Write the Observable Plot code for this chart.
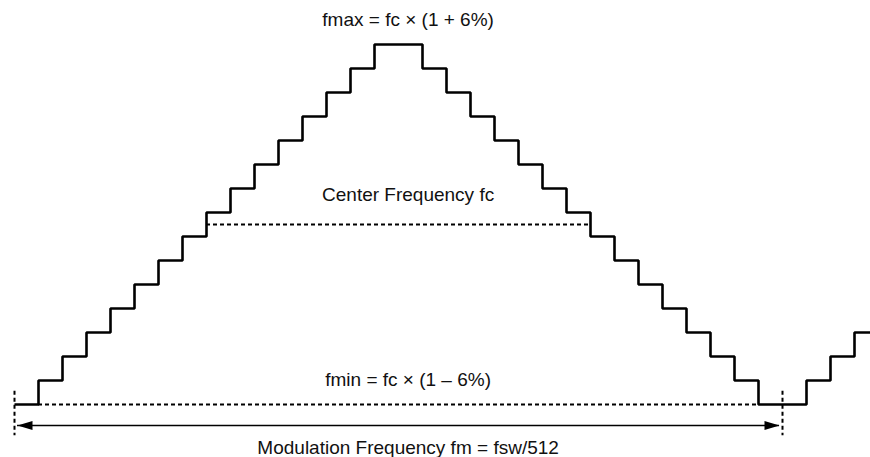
<!DOCTYPE html>
<html>
<head>
<meta charset="utf-8">
<script src="https://cdn.jsdelivr.net/npm/d3@7"></script>
<script src="https://cdn.jsdelivr.net/npm/@observablehq/plot@0.6"></script>
<style>
  html, body { margin: 0; padding: 0; background: #fff; overflow: hidden; }
  #chart svg { display: block; }
</style>
</head>
<body>
<div id="chart"></div>
<script>
// Frequency level of each modulation step (step index = position in array; last value closes the final step)
const stepLevels = [0,1,2,3,4,5,6,7,8,9,10,11,12,13,14,15,15,14,13,12,11,10,9,8,7,6,5,4,3,2,1,0,0,1,2,3,3];
// Reference levels (in step units)
const fminLevel = 0;
const fcLevel = 7.5;
const fmaxLevel = 15;
// Period markers (step index)
const periodStart = 0;
const periodEnd = 32;
// Labels
const labelTexts = ["fmax = fc × (1 + 6%)", "Center Frequency fc", "fmin = fc × (1 – 6%)", "Modulation Frequency fm = fsw/512"];
const labelLevels = [15.79, 8.5, 0.76, -2.08];
const labelStep = 16.4;

const steps = stepLevels.map((level, i) => ({i, level}));
const labels = labelTexts.map((text, k) => ({text, x: labelStep, y: labelLevels[k]}));

const arrowY = -0.875;
const arrowLeft = {draw(ctx) { ctx.moveTo(0, 0); ctx.lineTo(15, -4.5); ctx.lineTo(15, 4.5); ctx.closePath(); }};
const arrowRight = {draw(ctx) { ctx.moveTo(0, 0); ctx.lineTo(-15, -4.5); ctx.lineTo(-15, 4.5); ctx.closePath(); }};

const chart = Plot.plot({
  width: 870,
  height: 457,
  marginLeft: 14,
  marginRight: -8,
  marginTop: 44,
  marginBottom: 53,
  x: {domain: [0, 36], axis: null},
  y: {domain: [0, 15], axis: null},
  style: {fontFamily: "'Liberation Sans', Arial, sans-serif", background: "white"},
  marks: [
    Plot.ruleY([fminLevel], {x1: 1, x2: periodEnd - 1, stroke: "black", strokeWidth: 2, strokeDasharray: "4,3"}),
    Plot.ruleY([fcLevel], {x1: 8, x2: 24, stroke: "black", strokeWidth: 2, strokeDasharray: "4,3"}),
    Plot.ruleX([periodStart, periodEnd], {y1: 0.55, y2: -1.3, stroke: "black", strokeWidth: 2, strokeDasharray: "4,3"}),
    Plot.ruleY([arrowY], {x1: periodStart + 0.125, x2: periodEnd - 0.125, stroke: "black", strokeWidth: 1.5}),
    Plot.dot([{x: periodStart + 0.125, y: arrowY}], {x: "x", y: "y", symbol: arrowLeft, fill: "black", stroke: "none"}),
    Plot.dot([{x: periodEnd - 0.125, y: arrowY}], {x: "x", y: "y", symbol: arrowRight, fill: "black", stroke: "none"}),
    Plot.line(steps, {x: "i", y: "level", curve: "step-after", stroke: "black", strokeWidth: 2.6, strokeLinejoin: "miter", strokeLinecap: "butt"}),
    Plot.text(labels, {x: "x", y: "y", text: "text", textAnchor: "middle", lineAnchor: "bottom", fontSize: 19, fill: "#111"})
  ]
});
document.getElementById("chart").appendChild(chart);
</script>
</body>
</html>
